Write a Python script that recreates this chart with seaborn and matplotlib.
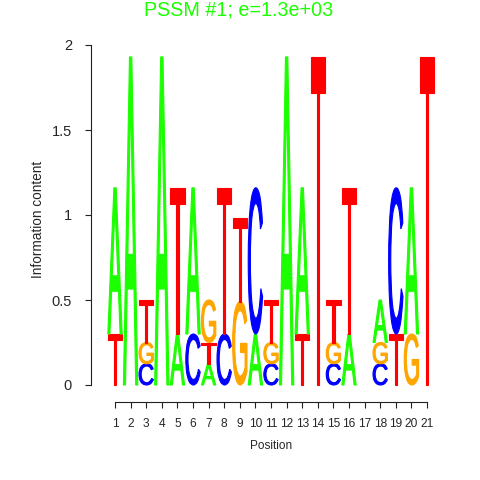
import numpy as np
import pandas as pd
import matplotlib
matplotlib.use("Agg")
import matplotlib.pyplot as plt
import seaborn as sns
from matplotlib.textpath import TextPath
from matplotlib.font_manager import FontProperties
from matplotlib.patches import PathPatch
from matplotlib.transforms import Affine2D

# information content per letter at each position (bits)
positions = list(range(1, 22))
height_A = [0.86, 1.93, 0, 1.93, 0.3, 0.86, 0.125, 0, 0, 0.3, 0, 1.93, 0.86, 0, 0, 0.3, 0, 0.25, 0, 0.86, 0]
height_C = [0, 0, 0.125, 0, 0, 0.3, 0, 0.3, 0, 0.86, 0.125, 0, 0, 0, 0.125, 0, 0, 0.125, 0.86, 0, 0]
height_G = [0, 0, 0.125, 0, 0, 0, 0.25, 0, 0.49, 0, 0.125, 0, 0, 0, 0.125, 0, 0, 0.125, 0, 0.3, 0]
height_T = [0.3, 0, 0.25, 0, 0.86, 0, 0.125, 0.86, 0.49, 0, 0.25, 0, 0.3, 1.93, 0.25, 0.86, 0, 0, 0.3, 0, 1.93]
y_ticks = [0, 0.5, 1, 1.5, 2]
y_tick_labels = ["0", "0.5", "1", "1.5", "2"]
title = "PSSM #1; e=1.3e+03"

colors = {"A": "#1cff00", "C": "#0000ff", "G": "#ffa500", "T": "#ff0000"}

df = pd.DataFrame({"pos": positions, "A": height_A, "C": height_C,
                   "G": height_G, "T": height_T})
long = df.melt(id_vars="pos", var_name="base", value_name="bits")

sns.set_style("ticks")
plt.rcParams["font.family"] = ["Liberation Sans", "DejaVu Sans"]

fig = plt.figure(figsize=(4.8, 4.8), dpi=100)
# axes box in pixels: left 91, right 451, top 40, bottom 402
ax = fig.add_axes([91 / 480, 78 / 480, 360 / 480, 362 / 480])
ax.set_xlim(1 - 24 / 15.6, 1 - 24 / 15.6 + 360 / 15.6)
ax.set_ylim(-17 / 170, 345 / 170)

fp = FontProperties(family="Liberation Sans")
glyphs = {}
for b in "ACGT":
    p = TextPath((0, 0), b, size=1, prop=fp)
    glyphs[b] = (p, p.get_extents())

width = 0.92
for pos, grp in long.groupby("pos"):
    grp = grp[grp["bits"] > 0].sort_values("bits", kind="stable")
    y0 = 0
    for _, row in grp.iterrows():
        path, ext = glyphs[row["base"]]
        tr = (Affine2D().translate(-ext.x0, -ext.y0)
              .scale(width / ext.width, row["bits"] / ext.height)
              .translate(pos - width / 2, y0))
        c = colors[row["base"]]
        ax.add_patch(PathPatch(tr.transform_path(path), facecolor=c,
                               edgecolor=c, lw=0.8, joinstyle="miter"))
        y0 += row["bits"]

sns.despine(ax=ax)
ax.spines["left"].set_bounds(0, 2)
ax.spines["bottom"].set_bounds(1, 21)
for s in ["left", "bottom"]:
    ax.spines[s].set_color("#222222")
    ax.spines[s].set_linewidth(0.8)

ax.set_xticks(positions)
ax.set_xticklabels([str(p) for p in positions], fontsize=8.6)
ax.set_yticks(y_ticks)
ax.set_yticklabels(y_tick_labels, fontsize=10.5)
ax.tick_params(axis="x", length=4.3, width=0.8, pad=7.5, color="#222222")
ax.tick_params(axis="y", length=4.3, width=0.8, pad=9.4, color="#222222")

ax.set_xlabel("Position", fontsize=8.5)
ax.xaxis.label.set_va("center")
ax.xaxis.set_label_coords(0.5, (402 - 446) / 362)
ax.set_ylabel("Information content", fontsize=9.8)
ax.yaxis.label.set_va("center")
ax.yaxis.set_label_coords((37.5 - 91) / 360, (402 - 219) / 362)

fig.text(239 / 480, 1 - 15 / 480, title, color="#1cff00", fontsize=14.2,
         ha="center", va="baseline")

fig.savefig("out.png", dpi=100)
